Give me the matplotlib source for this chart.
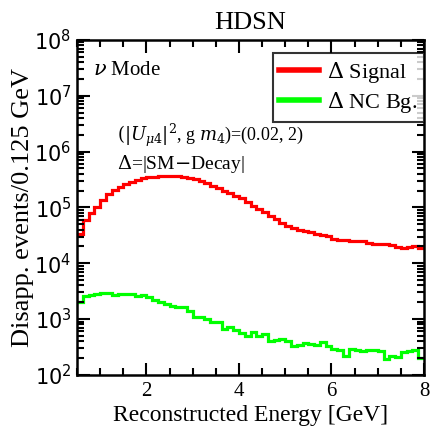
import numpy as np
import matplotlib
matplotlib.use("Agg")
from matplotlib import pyplot as plt
from matplotlib.ticker import MultipleLocator, LogLocator, NullFormatter

# Bin edges: 0.5 .. 8 GeV in 0.125 GeV steps
edges = np.arange(0.5, 8.0001, 0.125)

# log10 of the counts per bin
signal_log = [
    4.52, 4.78, 4.90, 5.00, 5.13, 5.24, 5.31, 5.37, 5.42, 5.46,
    5.49, 5.52, 5.54, 5.55, 5.56, 5.565, 5.56, 5.555, 5.545, 5.53,
    5.50, 5.47, 5.43, 5.39, 5.34, 5.30, 5.26, 5.21, 5.16, 5.10,
    5.03, 4.97, 4.91, 4.85, 4.79, 4.72, 4.67, 4.63, 4.60, 4.575,
    4.56, 4.53, 4.50, 4.49, 4.44, 4.42, 4.42, 4.40, 4.39, 4.39,
    4.37, 4.34, 4.34, 4.35, 4.32, 4.29, 4.28, 4.29, 4.31, 4.28,
]
ncbg_log = [
    3.31, 3.42, 3.43, 3.45, 3.46, 3.46, 3.43, 3.45, 3.45, 3.45,
    3.42, 3.43, 3.39, 3.35, 3.31, 3.27, 3.24, 3.21, 3.21, 3.14,
    3.04, 3.03, 3.01, 2.94, 2.94, 2.83, 2.85, 2.80, 2.75, 2.69,
    2.76, 2.69, 2.73, 2.61, 2.63, 2.65, 2.60, 2.52, 2.54, 2.57,
    2.56, 2.54, 2.59, 2.51, 2.47, 2.45, 2.34, 2.47, 2.45, 2.43,
    2.45, 2.45, 2.43, 2.29, 2.34, 2.32, 2.41, 2.42, 2.44, 2.31,
]
y_ticks = [1e2, 1e3, 1e4, 1e5, 1e6, 1e7, 1e8]

signal = 10 ** np.array(signal_log)
ncbg = 10 ** np.array(ncbg_log)

serif = ["Liberation Serif", "DejaVu Serif"]
plt.rcParams["font.family"] = serif
plt.rcParams["mathtext.fontset"] = "dejavuserif"

fig = plt.figure(figsize=(4.38, 4.38), dpi=100)
ax = fig.add_axes([0.176, 0.144, 0.792, 0.765])

ax.stairs(signal, edges, color="#ff0000", lw=2.3, baseline=None,
          label=r"$\Delta$ Signal")
ax.stairs(ncbg, edges, color="#00ff00", lw=2.3, baseline=None,
          label=r"$\Delta$ NC Bg.")

ax.set_yscale("log")
ax.set_xlim(0.5, 8)
ax.set_ylim(1e2, 1e8)

ax.xaxis.set_major_locator(MultipleLocator(2))
ax.xaxis.set_minor_locator(MultipleLocator(0.5))
ax.set_yticks(y_ticks)
ax.yaxis.set_minor_locator(LogLocator(base=10, subs=np.arange(2, 10), numticks=20))
ax.yaxis.set_minor_formatter(NullFormatter())

ax.tick_params(which="both", direction="in", top=True, right=True, width=1.5)
ax.tick_params(which="major", length=9)
ax.tick_params(which="minor", length=5)
ax.tick_params(axis="x", which="major", labelsize=15, pad=5)
ax.tick_params(axis="y", which="major", labelsize=15, pad=4)
for lab in ax.get_yticklabels():
    lab.set_family("DejaVu Sans")
for sp in ax.spines.values():
    sp.set_linewidth(1.8)

ax.set_title("HDSN", fontsize=19, pad=8)
ax.set_xlabel("Reconstructed Energy [GeV]", fontsize=17, labelpad=3)
ax.set_ylabel("Disapp. events/0.125 GeV", fontsize=19, labelpad=0)

ax.text(0.045, 0.91, r"$\nu$ Mode", transform=ax.transAxes, fontsize=15,
        va="center")
ax.text(0.115, 0.715, r"$(|U_{\mu 4}|^2$, g $m_4$)=(0.02, 2)",
        transform=ax.transAxes, fontsize=13, va="center")
ax.text(0.115, 0.63, r"$\Delta$=|SM$-$Decay|", transform=ax.transAxes,
        fontsize=14, va="center")

leg = ax.legend(loc="upper right", bbox_to_anchor=(1.0, 0.961), fontsize=16,
                frameon=True, fancybox=False, edgecolor="black",
                handlelength=1.8, borderaxespad=0.0, borderpad=0.3,
                labelspacing=0.25, handletextpad=0.35)
leg.get_frame().set_linewidth(1.5)
for h in leg.get_lines():
    h.set_linewidth(4)

fig.savefig("out.png", dpi=100)
